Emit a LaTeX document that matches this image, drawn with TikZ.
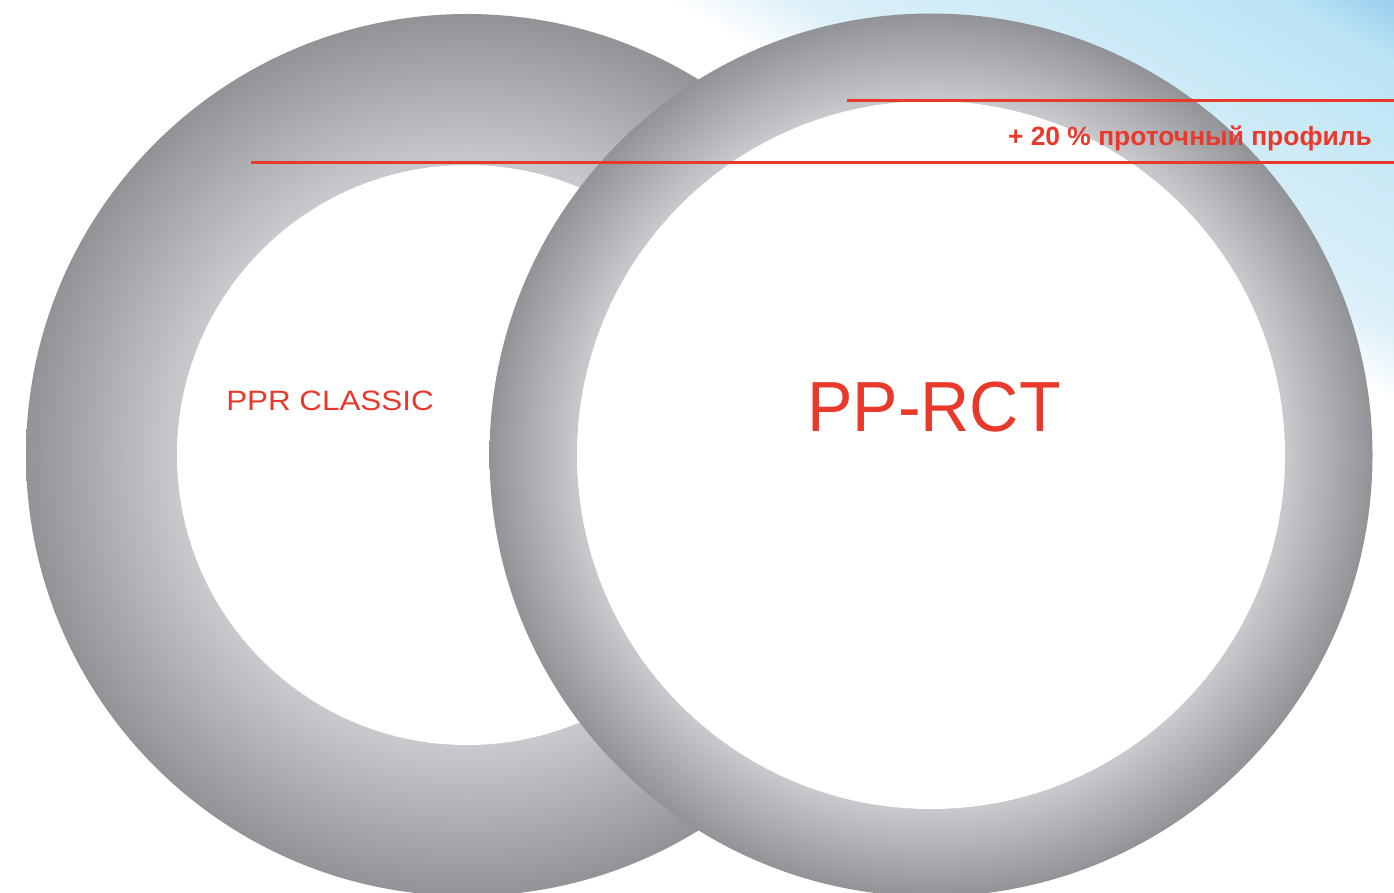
\documentclass[tikz,border=0pt]{standalone}
\usepackage{fontspec}
\setmainfont{Liberation Sans}
\newfontfamily\classicfont[FakeStretch=1.12]{Liberation Sans}
\newfontfamily\rctfont[FakeStretch=0.96]{Liberation Sans}
\usetikzlibrary{positioning}

\definecolor{pipered}{HTML}{E8392B}
\definecolor{pipelight}{HTML}{C9CACD}
\definecolor{pipedark}{HTML}{929397}
\definecolor{skypale}{HTML}{DCF0F8}
\definecolor{skymid}{HTML}{BBE4F5}
\definecolor{skydeep}{HTML}{7DBCE6}

% wall shadings: light at the bore, dark at the outer wall
\pgfdeclareradialshading{wallclassic}{\pgfpoint{0bp}{0bp}}{color(0bp)=(pipelight); color(16.4bp)=(pipelight); color(25bp)=(pipedark); color(50bp)=(pipedark)}
\pgfdeclareradialshading{wallrct}{\pgfpoint{0bp}{0bp}}{color(0bp)=(pipelight); color(20bp)=(pipelight); color(25bp)=(pipedark); color(50bp)=(pipedark)}
% sky behind the top right corner
\pgfdeclareverticalshading{skyfade}{100bp}{color(0bp)=(white); color(46bp)=(white); color(49.3bp)=(skypale); color(61bp)=(skymid); color(66bp)=(skydeep); color(100bp)=(skydeep)}

\begin{document}
\begin{tikzpicture}[x=1pt,y=1pt]
    % Canvas
    \useasboundingbox (0,0) rectangle (1394,-893);

    % Sky in the corner
    \shade[shading=skyfade, shading angle=-29] (600,350) rectangle (1600,-650);

    % Pipe centres
    \coordinate (L) at (467,-455);
    \coordinate (R) at (931,-455);

    % PPR classic pipe
    \shade[shading=wallclassic] (L) circle (441);
    \fill[white] (L) circle (290);

    % PP-RCT pipe
    \shade[shading=wallrct] (R) circle (441.5);
    \fill[white] (R) circle (354);

    % Bore markers
    \coordinate (bore1) at (251,-163);
    \coordinate (bore1e) at (1394,-163);
    \coordinate (bore2) at (847,-101);
    \coordinate (bore2e) at (1394,-101);
    \draw[pipered, line width=3] (bore1) -- (bore1e);
    \draw[pipered, line width=3] (bore2) -- (bore2e);

    % Labels
    \node[pipered, anchor=base, font=\classicfont\fontsize{28}{28}\selectfont] (classic) at (330,-410.5) {PPR CLASSIC};
    \node[pipered, anchor=base, font=\rctfont\fontsize{71}{71}\selectfont] (rct) at (934,-431.5) {PP-RCT};
    \node[pipered, anchor=base east, inner sep=0pt, font=\bfseries\fontsize{26.4}{26.4}\selectfont] (gain) at (1372,-146) {+ 20 \% проточный профиль};
\end{tikzpicture}
\end{document}
